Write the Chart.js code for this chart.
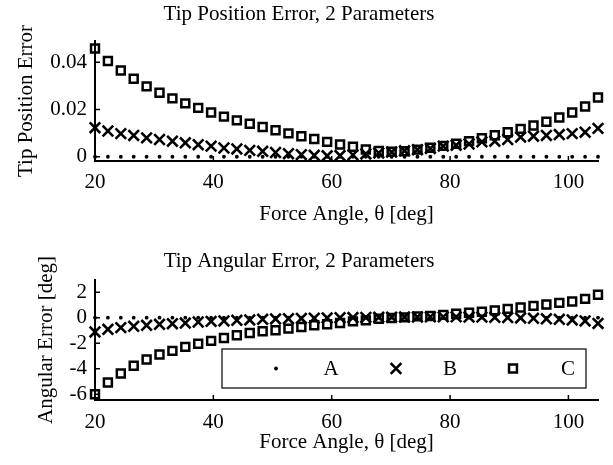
<!DOCTYPE html>
<html>
<head>
<meta charset="utf-8">
<title>Tip Error, 2 Parameters</title>
<script src="https://cdn.jsdelivr.net/npm/chart.js@4.4.0/dist/chart.umd.min.js"></script>
<style>
  html, body { margin: 0; padding: 0; background: #fff; }
  #wrap { position: relative; width: 613px; height: 465px; }
  canvas { position: absolute; left: 0; }
  #posChart { top: 0; }
  #angChart { top: 232px; }
</style>
</head>
<body>
<div id="wrap">
  <canvas id="posChart" width="613" height="232"></canvas>
  <canvas id="angChart" width="613" height="233"></canvas>
</div>
<script>
// Data
const angles = [20.00, 22.18, 24.36, 26.54, 28.72, 30.90, 33.08, 35.26, 37.44, 39.62,
                41.79, 43.97, 46.15, 48.33, 50.51, 52.69, 54.87, 57.05, 59.23, 61.41,
                63.59, 65.77, 67.95, 70.13, 72.31, 74.49, 76.67, 78.85, 81.03, 83.21,
                85.38, 87.56, 89.74, 91.92, 94.10, 96.28, 98.46, 100.64, 102.82, 105.00];

const seriesNames = ['A', 'B', 'C'];

// Tip position error
const posA = [0, 0, 0, 0, 0, 0, 0, 0, 0, 0, 0, 0, 0, 0, 0, 0, 0, 0, 0, 0,
              0, 0, 0, 0, 0, 0, 0, 0, 0, 0, 0, 0, 0, 0, 0, 0, 0, 0, 0, 0];
const posB = [0.0123, 0.0109, 0.0098, 0.0090, 0.0080, 0.0073, 0.0066, 0.0059, 0.0051, 0.0045,
              0.0037, 0.0033, 0.0027, 0.0023, 0.0018, 0.0013, 0.0009, 0.0006, 0.0004, 0.0005,
              0.0008, 0.0012, 0.0016, 0.0020, 0.0025, 0.0030, 0.0035, 0.0045, 0.0049, 0.0054,
              0.0063, 0.0066, 0.0073, 0.0083, 0.0087, 0.0090, 0.0094, 0.0098, 0.0104, 0.0120];
const posC = [0.0458, 0.0405, 0.0365, 0.0330, 0.0298, 0.0271, 0.0247, 0.0226, 0.0207, 0.0187,
              0.0170, 0.0154, 0.0140, 0.0126, 0.0112, 0.0099, 0.0087, 0.0075, 0.0063, 0.0052,
              0.0042, 0.0031, 0.0024, 0.0021, 0.0023, 0.0030, 0.0038, 0.0046, 0.0055, 0.0066,
              0.0078, 0.0091, 0.0104, 0.0118, 0.0132, 0.0148, 0.0166, 0.0187, 0.0213, 0.0251];

// Tip angular error [deg]
const angA = [0, 0, 0, 0, 0, 0, 0, 0, 0, 0, 0, 0, 0, 0, 0, 0, 0, 0, 0, 0,
              0, 0, 0, 0, 0, 0, 0, 0, 0, 0, 0, 0, 0, 0, 0, 0, 0, 0, 0, 0];
const angB = [-1.12, -0.91, -0.78, -0.68, -0.60, -0.52, -0.47, -0.42, -0.34, -0.29,
              -0.26, -0.21, -0.18, -0.13, -0.10, -0.08, -0.06, -0.04, -0.02, 0.00,
              0.01, 0.02, 0.03, 0.04, 0.05, 0.05, 0.06, 0.06, 0.06, 0.05,
              0.04, 0.03, 0.01, -0.02, -0.05, -0.09, -0.13, -0.18, -0.26, -0.45];
const angC = [-6.00, -5.08, -4.37, -3.77, -3.28, -2.89, -2.60, -2.29, -2.05, -1.82,
              -1.59, -1.38, -1.20, -1.07, -0.99, -0.86, -0.73, -0.60, -0.52, -0.42,
              -0.29, -0.21, -0.08, -0.03, 0.02, 0.10, 0.13, 0.22, 0.30, 0.38,
              0.46, 0.57, 0.69, 0.80, 0.92, 1.03, 1.16, 1.27, 1.47, 1.80];

const xTicks = [20, 40, 60, 80, 100];
const posTicks = [0, 0.02, 0.04];
const angTicks = [-6, -4, -2, 0, 2];

// Look
const serif = { family: "'Liberation Serif', 'Times New Roman', serif", size: 21, weight: 'normal' };
const markers = [
  { style: 'circle', radius: 1.9, width: 0, fill: '#000' },
  { style: 'crossRot', radius: 7.5, width: 2.6, fill: 'transparent' },
  { style: 'rect', radius: 5.6, width: 2.5, fill: 'transparent' }
];

// MATLAB-style tick marks pointing into the plot
const inwardTicks = {
  id: 'inwardTicks',
  afterDraw(chart) {
    const { ctx, chartArea } = chart;
    const xs = chart.scales.x, ys = chart.scales.y;
    ctx.save();
    ctx.strokeStyle = '#000';
    ctx.lineWidth = 1.5;
    ctx.beginPath();
    xs.ticks.forEach(t => {
      const px = xs.getPixelForValue(t.value);
      ctx.moveTo(px, chartArea.bottom);
      ctx.lineTo(px, chartArea.bottom - 5);
    });
    ys.ticks.forEach(t => {
      const py = ys.getPixelForValue(t.value);
      ctx.moveTo(chartArea.left, py);
      ctx.lineTo(chartArea.left + 5, py);
    });
    ctx.stroke();
    ctx.restore();
  }
};

function drawMarker(ctx, m, x, y) {
  ctx.fillStyle = m.fill;
  ctx.strokeStyle = '#000';
  ctx.lineWidth = m.width;
  if (Chart.helpers && Chart.helpers.drawPoint) {
    Chart.helpers.drawPoint(ctx, { pointStyle: m.style, radius: m.radius, borderWidth: m.width, rotation: 0 }, x, y);
    return;
  }
  ctx.beginPath();
  if (m.style === 'circle') {
    ctx.arc(x, y, m.radius, 0, Math.PI * 2);
    ctx.fill();
  } else if (m.style === 'crossRot') {
    const d = m.radius * Math.SQRT1_2;
    ctx.moveTo(x - d, y - d); ctx.lineTo(x + d, y + d);
    ctx.moveTo(x - d, y + d); ctx.lineTo(x + d, y - d);
    ctx.stroke();
  } else {
    const d = m.radius * Math.SQRT1_2;
    ctx.rect(x - d, y - d, 2 * d, 2 * d);
    ctx.stroke();
  }
}

// Boxed legend inside the lower plot
const legendBox = { left: 222, top: 117, right: 586, bottom: 156 };
const legendMarkX = [276, 396, 513];
const legendTextX = [331, 450, 568];
const boxedLegend = {
  id: 'boxedLegend',
  afterDraw(chart) {
    const ctx = chart.ctx;
    const b = legendBox;
    const cy = (b.top + b.bottom) / 2;
    ctx.save();
    ctx.fillStyle = '#fff';
    ctx.fillRect(b.left, b.top, b.right - b.left, b.bottom - b.top);
    ctx.strokeStyle = '#000';
    ctx.lineWidth = 1.2;
    ctx.strokeRect(b.left, b.top, b.right - b.left, b.bottom - b.top);
    chart.data.datasets.forEach((ds, i) => {
      drawMarker(ctx, markers[i], legendMarkX[i], cy);
      ctx.fillStyle = '#000';
      ctx.font = serif.size + 'px ' + serif.family;
      ctx.textAlign = 'center';
      ctx.textBaseline = 'middle';
      ctx.fillText(ds.label, legendTextX[i], cy + 1);
    });
    ctx.restore();
  }
};

function makePanel(id, cfg) {
  const datasets = cfg.series.map((vals, i) => ({
    label: seriesNames[i],
    data: angles.map((a, k) => ({ x: a, y: vals[k] })),
    pointStyle: markers[i].style,
    pointRadius: markers[i].radius,
    pointBorderWidth: markers[i].width,
    pointBackgroundColor: markers[i].fill,
    pointBorderColor: '#000',
    showLine: false,
    clip: false,
    order: 3 - i
  }));

  return new Chart(document.getElementById(id), {
    type: 'scatter',
    data: { datasets },
    options: {
      responsive: false,
      animation: false,
      events: [],
      layout: { padding: { left: 0, right: 15, top: 0, bottom: 0 }, autoPadding: false },
      plugins: {
        legend: { display: false },
        tooltip: { enabled: false },
        title: {
          display: true,
          text: cfg.title,
          color: '#000',
          font: serif,
          padding: cfg.titlePad
        }
      },
      scales: {
        x: {
          type: 'linear',
          min: 20,
          max: 105,
          afterBuildTicks: s => { s.ticks = xTicks.map(v => ({ value: v })); },
          afterFit: s => { s.height = cfg.xHeight; },
          ticks: { padding: cfg.xTickPad, autoSkip: false, maxRotation: 0, color: '#000', font: serif },
          grid: { display: false, tickLength: 0 },
          border: { display: true, color: '#000', width: 2 },
          title: {
            display: true,
            text: 'Force Angle, θ [deg]',
            color: '#000',
            font: serif,
            padding: { top: 0, bottom: cfg.xTitlePad }
          }
        },
        y: {
          type: 'linear',
          min: cfg.yMin,
          max: cfg.yMax,
          afterBuildTicks: s => { s.ticks = cfg.yTicks.map(v => ({ value: v })); },
          afterFit: s => { s.width = 95; },
          ticks: {
            padding: 8,
            autoSkip: false,
            color: '#000',
            font: serif,
            callback: v => String(v)
          },
          grid: { display: false, tickLength: 0 },
          border: { display: true, color: '#000', width: 2 },
          title: {
            display: true,
            text: cfg.yLabel,
            color: '#000',
            font: serif,
            padding: { top: cfg.yTitlePad, bottom: 0 }
          }
        }
      }
    },
    plugins: [inwardTicks].concat(cfg.extra || [])
  });
}

document.addEventListener('DOMContentLoaded', function () {
  if (typeof Chart === 'undefined') {
    console.warn('Chart.js not loaded');
    return;
  }

  // 1. Tip position error
  makePanel('posChart', {
    title: 'Tip Position Error, 2 Parameters',
    yLabel: 'Tip Position Error',
    series: [posA, posB, posC],
    yTicks: posTicks,
    yMin: -0.0018,
    yMax: 0.049,
    titlePad: { top: 2, bottom: 13.8 },
    xHeight: 71,
    xTickPad: 9,
    xTitlePad: 5.4,
    yTitlePad: 13.4
  });

  // 2. Tip angular error
  makePanel('angChart', {
    title: 'Tip Angular Error, 2 Parameters',
    yLabel: 'Angular Error [deg]',
    series: [angA, angB, angC],
    yTicks: angTicks,
    yMin: -6.45,
    yMax: 2.95,
    titlePad: { top: 16.5, bottom: 6.3 },
    xHeight: 65,
    xTickPad: 9.5,
    xTitlePad: 10.4,
    yTitlePad: 33.4,
    extra: [boxedLegend]
  });
});
</script>
</body>
</html>
